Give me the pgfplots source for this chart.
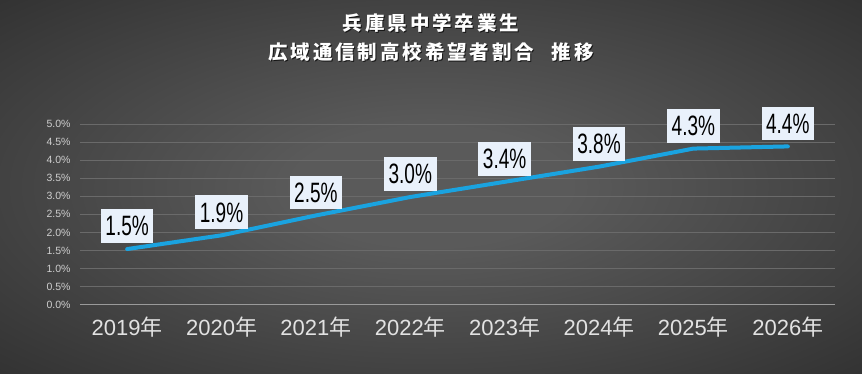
\documentclass[border=0pt]{standalone}
\usepackage{fontspec}
\setmainfont{Liberation Sans}
\newfontfamily\cjk{Noto Sans CJK JP}
\newfontfamily\titlefont[LetterSpace=15]{Noto Sans CJK JP}
\usepackage{graphicx}
\usepackage{pgfplots}
\pgfplotsset{compat=1.18}

\definecolor{bgin}{HTML}{5A5A5A}
\definecolor{bgout}{HTML}{1E1E1E}
\definecolor{gridc}{HTML}{6A6A6A}
\definecolor{axisc}{HTML}{9A9A9A}
\definecolor{ticktext}{HTML}{E2E2E2}
\definecolor{yticktext}{HTML}{CFCFCF}
\definecolor{lineblue}{HTML}{1AA3E0}
\definecolor{labelfill}{HTML}{E9F1FB}
\pgfdeclareradialshading{bgshade}{\pgfpoint{0bp}{0bp}}{color(0bp)=(bgin); color(8bp)=(bgin); color(50bp)=(bgout); color(80bp)=(bgout)}

\begin{document}
\begin{tikzpicture}
\shade[shading=bgshade] (0,0) rectangle (862pt,373pt);
\useasboundingbox (0,0) rectangle (862pt,373pt);

\node[font=\titlefont\bfseries\fontsize{19.5}{19.5}\selectfont, text=black, opacity=0.7] at (432pt,349pt) {兵庫県中学卒業生};
\node[font=\titlefont\bfseries\fontsize{19.5}{19.5}\selectfont, text=white] at (431pt,350pt) {兵庫県中学卒業生};
\node[font=\titlefont\bfseries\fontsize{19.5}{19.5}\selectfont, text=black, opacity=0.7] at (432pt,320pt) {広域通信制高校希望者割合\hspace{0.9em}推移};
\node[font=\titlefont\bfseries\fontsize{19.5}{19.5}\selectfont, text=white] at (431pt,321pt) {広域通信制高校希望者割合\hspace{0.9em}推移};

\begin{axis}[
  scale only axis, width=755pt, height=180.7pt,
  at={(80pt,68.3pt)}, anchor=south west,
  xmin=-0.5, xmax=7.5, ymin=0, ymax=5,
  clip=false,
  axis lines*=left,
  x axis line style={draw=axisc, line width=0.8pt, -},
  y axis line style={draw=none},
  major tick length=0pt,
  ymajorgrids, grid style={draw=gridc, line width=0.5pt},
  xtick={0,1,2,3,4,5,6,7},
  xticklabels={{2019{\cjk 年}},{2020{\cjk 年}},{2021{\cjk 年}},{2022{\cjk 年}},{2023{\cjk 年}},{2024{\cjk 年}},{2025{\cjk 年}},{2026{\cjk 年}}},
  xticklabel style={font=\fontsize{22}{22}\selectfont, text=ticktext, yshift=-9pt},
  ytick={0,0.5,1,1.5,2,2.5,3,3.5,4,4.5,5},
  /pgf/number format/assume math mode=true,
  yticklabel={\pgfmathprintnumber[fixed,fixed zerofill,precision=1]{\tick}\%},
  yticklabel style={font=\fontsize{10.5}{10.5}\selectfont, text=yticktext, xshift=-6pt},
  every node near coord/.style={anchor=south, fill=labelfill, text=black, inner xsep=4.5pt, inner ysep=7pt, yshift=4pt, font=\fontsize{28}{28}\selectfont},
]
\addplot[color=lineblue, line width=4pt, mark=none, line cap=round, line join=round,
  point meta=explicit symbolic,
  nodes near coords={\scalebox{0.68}[1]{\pgfplotspointmeta}}]
coordinates {
 (0,1.54) [1.5\%]
 (1,1.92) [1.9\%]
 (2,2.47) [2.5\%]
 (3,2.98) [3.0\%]
 (4,3.40) [3.4\%]
 (5,3.82) [3.8\%]
 (6,4.32) [4.3\%]
 (7,4.38) [4.4\%]
};
\end{axis}
\end{tikzpicture}
\end{document}
